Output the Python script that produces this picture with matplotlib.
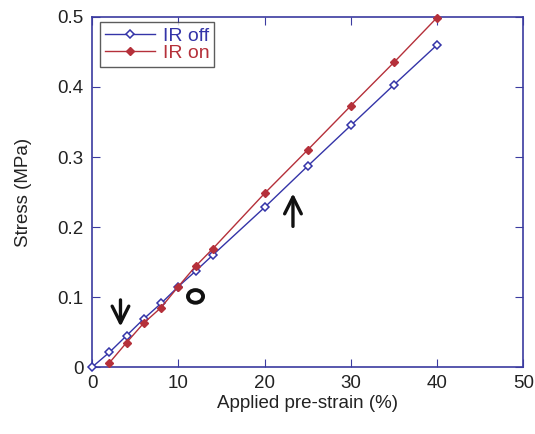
import matplotlib.pyplot as plt
from matplotlib.patches import Ellipse

plt.rcParams['font.family'] = ['Liberation Sans', 'DejaVu Sans']

# pre-strain (%) and stress (MPa) for both conditions
strain = [0, 2, 4, 6, 8, 10, 12, 14, 20, 25, 30, 35, 40]
stress_off = [0, 0.021, 0.045, 0.069, 0.091, 0.115, 0.137, 0.160,
              0.228, 0.287, 0.345, 0.403, 0.460]
strain_on = [2, 4, 6, 8, 10, 12, 14, 20, 25, 30, 35, 40]
stress_on = [0.006, 0.035, 0.063, 0.085, 0.115, 0.144, 0.169,
             0.248, 0.310, 0.373, 0.435, 0.499]

blue = '#3434a8'
red = '#b5303a'
axis_col = '#3b3ba0'

fig = plt.figure(figsize=(5.35, 4.34), dpi=100)
ax = fig.add_axes([0.172, 0.154, 0.806, 0.807])

ax.plot(strain, stress_off, c=blue, lw=1, marker='D', ms=4.5,
        mfc='white', mec=blue, mew=1.1, label='IR off', clip_on=False, zorder=3)
ax.plot(strain_on, stress_on, c=red, lw=1, marker='D', ms=4.5,
        mfc=red, mec=red, label='IR on', clip_on=False, zorder=3)

ax.set_xlim(0, 50)
ax.set_ylim(0, 0.5)
ax.set_xticks([0, 10, 20, 30, 40, 50])
ax.set_yticks([0, 0.1, 0.2, 0.3, 0.4, 0.5])
ax.set_yticklabels(['0', '0.1', '0.2', '0.3', '0.4', '0.5'])

for s in ax.spines.values():
    s.set_color(axis_col)
    s.set_linewidth(1.2)
ax.tick_params(axis='both', which='major', direction='in', length=6,
               color=axis_col, labelsize=13.5, labelcolor='#222222',
               top=True, right=True, pad=6)

ax.set_xlabel('Applied pre-strain (%)', fontsize=13.5, color='#222222', labelpad=2)
ax.set_ylabel('Stress (MPa)', fontsize=13.5, color='#222222', labelpad=18)

leg = ax.legend(loc='upper left', bbox_to_anchor=(0.018, 0.985), fancybox=False,
                fontsize=14, handlelength=2.6, borderpad=0.25,
                labelspacing=0.0, handletextpad=0.4, borderaxespad=0)
leg.get_frame().set_edgecolor('#333333')
leg.get_frame().set_linewidth(1.0)
for t, c in zip(leg.get_texts(), [blue, red]):
    t.set_color(c)

# arrows and circle marking regions of the curves
ax.annotate('', xy=(3.3, 0.054), xytext=(3.3, 0.1),
            arrowprops=dict(arrowstyle='->', lw=2.4, color='#111111',
                            mutation_scale=30))
ax.annotate('', xy=(23.3, 0.252), xytext=(23.3, 0.197),
            arrowprops=dict(arrowstyle='->', lw=2.4, color='#111111',
                            mutation_scale=30))
ax.add_patch(Ellipse((12.0, 0.101), 1.75, 0.018, fill=False,
                     lw=2.8, ec='#111111'))

fig.savefig('out.png', dpi=100)
